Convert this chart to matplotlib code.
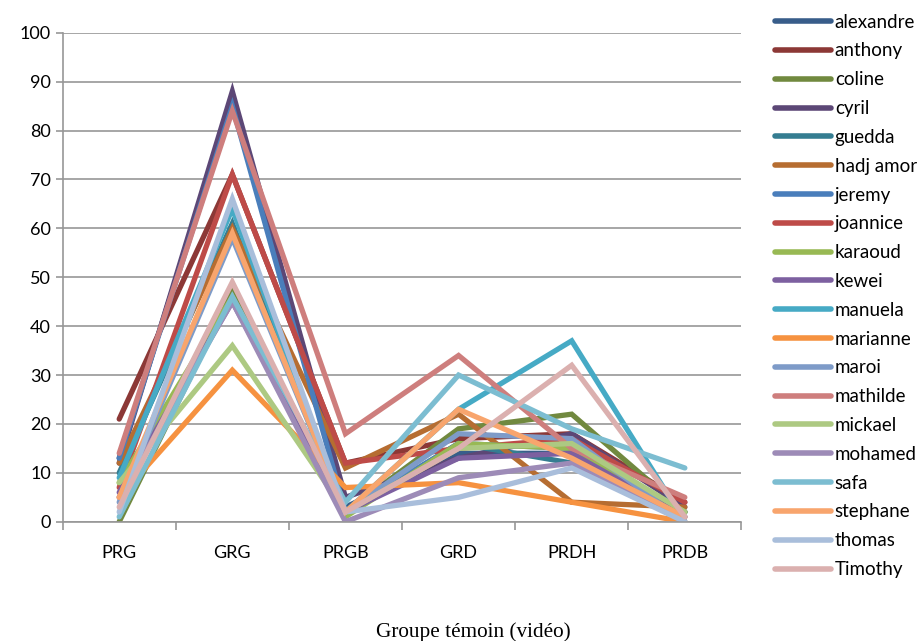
import matplotlib.pyplot as plt

plt.rcParams['font.family'] = ['Lato', 'DejaVu Sans']

categories = ['PRG', 'GRG', 'PRGB', 'GRD', 'PRDH', 'PRDB']

names = ['alexandre', 'anthony', 'coline', 'cyril', 'guedda', 'hadj amor', 'jeremy',
         'joannice', 'karaoud', 'kewei', 'manuela', 'marianne', 'maroi', 'mathilde',
         'mickael', 'mohamed', 'safa', 'stephane', 'thomas', 'Timothy']

values = [
    [13, 86, 3, 14, 14, 2],    # alexandre
    [21, 71, 12, 17, 18, 4],   # anthony
    [0, 47, 2, 19, 22, 2],     # coline
    [12, 88, 5, 13, 18, 3],    # cyril
    [10, 61, 2, 16, 12, 2],    # guedda
    [12, 60, 11, 22, 4, 3],    # hadj amor
    [13, 85, 2, 16, 15, 1],    # jeremy
    [7, 71, 12, 15, 17, 4],    # joannice
    [8, 46, 1, 16, 15, 2],     # karaoud
    [6, 45, 2, 13, 14, 1],     # kewei
    [9, 64, 2, 23, 37, 0],     # manuela
    [5, 31, 7, 8, 4, 0],       # marianne
    [4, 58, 2, 18, 17, 0],     # maroi
    [14, 84, 18, 34, 15, 5],   # mathilde
    [8, 36, 2, 15, 16, 2],     # mickael
    [5, 45, 0, 9, 12, 0],      # mohamed
    [1, 46, 4, 30, 19, 11],    # safa
    [5, 59, 2, 23, 13, 1],     # stephane
    [2, 66, 2, 5, 11, 0],      # thomas
    [3, 49, 2, 15, 32, 1],     # Timothy
]

colors = ['#385D8A', '#8C3836', '#71893F', '#5C4776', '#357D91', '#B66D31',
          '#4A7EBB', '#BE4B48', '#98B954', '#7D60A0', '#46AAC5', '#F69240',
          '#7E9BC8', '#CE7E7D', '#ADC982', '#9D8BB7', '#7CBDD1', '#F8A56D',
          '#A9BEDB', '#DBB0AF']

fig = plt.figure(figsize=(9.21, 6.41), dpi=100)
ax = fig.add_axes([0.068, 0.186, 0.737, 0.763])

x = range(len(categories))
for name, vals, c in zip(names, values, colors):
    ax.plot(x, vals, color=c, lw=3.8, label=name,
            solid_capstyle='round', solid_joinstyle='miter')

ax.set_xlim(-0.5, 5.5)
ax.set_ylim(0, 100)
ax.set_yticks(range(0, 101, 10))
ax.yaxis.grid(True, color='#979797', lw=1.2)
ax.set_axisbelow(True)
ax.set_xticks(list(x))
ax.set_xticklabels(categories)
ax.set_xticks([i - 0.5 for i in range(7)], minor=True)
ax.tick_params(axis='x', which='major', length=0, pad=17, labelsize=13)
ax.tick_params(axis='x', which='minor', length=6, color='#979797', width=1.2)
ax.tick_params(axis='y', length=5, color='#979797', width=1.2, labelsize=13)
for s in ['top', 'right']:
    ax.spines[s].set_visible(False)
for s in ['left', 'bottom']:
    ax.spines[s].set_color('#979797')
    ax.spines[s].set_linewidth(1.2)

leg = fig.legend(loc='upper left', bbox_to_anchor=(0.823, 1.005), frameon=False,
                 fontsize=13.5, handlelength=3.0, labelspacing=0.63, handletextpad=0.2)
for h in leg.get_lines():
    h.set_linewidth(4)

fig.text(0.514, 0.006, 'Groupe témoin (vidéo)', ha='center', family='Liberation Serif', fontsize=15.3)

fig.savefig('out.png')
